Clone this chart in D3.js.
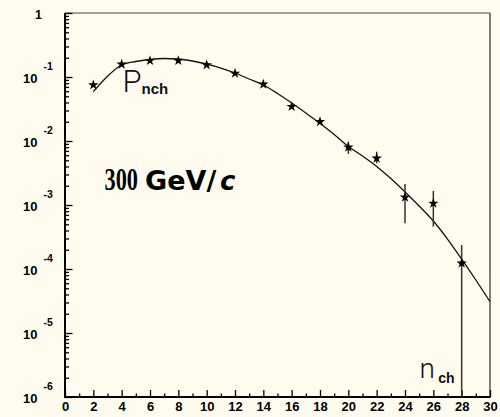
<!DOCTYPE html>
<html>
<head>
<meta charset="utf-8">
<script src="https://cdn.jsdelivr.net/npm/d3@7"></script>
<style>
  html, body { margin: 0; padding: 0; background: #fffcef; }
  svg { display: block; }
</style>
</head>
<body>
<svg id="chart" width="500" height="417"></svg>
<script>
// ---- data ----
const nch      = [2, 4, 6, 8, 10, 12, 14, 16, 18, 20, 22, 24, 26, 28];
const pnch     = [0.075, 0.158, 0.180, 0.180, 0.154, 0.114, 0.0769, 0.0344, 0.0200, 0.00797, 0.00537, 0.00132, 0.00106, 0.000123];
const errHigh  = [0.075, 0.158, 0.180, 0.180, 0.154, 0.114, 0.0769, 0.0344, 0.0200, 0.00975, 0.00681, 0.00213, 0.00166, 0.000237];
const errLow   = [0.075, 0.158, 0.180, 0.180, 0.154, 0.114, 0.0769, 0.0344, 0.0200, 0.0063, 0.00449, 0.000518, 0.000458, 0.000001];

const fitN = [2, 3, 4, 5, 6, 7, 8, 9, 10, 11, 12, 13, 14, 15, 16, 17, 18, 19, 20, 21, 22, 23, 24, 25, 26, 27, 28, 29, 30];
const fitP = [0.0589, 0.103, 0.154, 0.1747, 0.1877, 0.1946, 0.1911, 0.1778, 0.1596, 0.1382, 0.1155, 0.0931, 0.0750, 0.0553,
              0.0392, 0.0274, 0.01877, 0.01264, 0.00821, 0.00583, 0.00400, 0.00259, 0.00160, 0.000965, 0.000562,
              0.000294, 0.000143, 0.0000673, 0.0000308];

const xMajorTicks = [0, 2, 4, 6, 8, 10, 12, 14, 16, 18, 20, 22, 24, 26, 28, 30];
const xMinorTicks = [1, 3, 5, 7, 9, 11, 13, 15, 17, 19, 21, 23, 25, 27, 29];
const yDecades    = [1, 1e-1, 1e-2, 1e-3, 1e-4, 1e-5, 1e-6];
const yExponents  = ["", "-1", "-2", "-3", "-4", "-5", "-6"];

// ---- layout ----
const svg = d3.select("#chart");
const L = 65, R = 490, T = 13, B = 397;
const x = d3.scaleLinear().domain([0, 30]).range([L, R]);
const y = d3.scaleLog().domain([1e-6, 1]).range([B, T]);

svg.append("rect").attr("width", 500).attr("height", 417).attr("fill", "#fffcef");

// frame top / right (grey)
svg.append("line").attr("x1", L).attr("x2", R).attr("y1", T).attr("y2", T)
  .attr("stroke", "#444").attr("stroke-width", 1.2);
svg.append("line").attr("x1", R).attr("x2", R).attr("y1", T).attr("y2", B)
  .attr("stroke", "#555").attr("stroke-width", 1.5);

// minor y ticks
const yMinor = [];
for (let d = -6; d < 0; d++) for (let k = 2; k <= 9; k++) yMinor.push(k * Math.pow(10, d));

const yMinorAxis = svg.append("g").attr("transform", `translate(${L},0)`)
  .call(d3.axisLeft(y).tickValues(yMinor).tickSize(-4).tickFormat(""));
yMinorAxis.select(".domain").remove();

const yAxis = svg.append("g").attr("transform", `translate(${L},0)`)
  .call(d3.axisLeft(y).tickValues(yDecades).tickSize(-7.5).tickFormat(""));
yAxis.select(".domain").remove();

[yMinorAxis, yAxis].forEach(g => g.selectAll(".tick line").attr("stroke", "#000").attr("stroke-width", 1.3));

// y labels
const ylab = svg.append("g").attr("font-family", "'Liberation Sans', Arial, sans-serif").attr("font-weight", "bold").attr("fill", "#000");
yDecades.forEach((v, i) => {
  const ty = y(v);
  if (i === 0) {
    ylab.append("text").attr("x", L - 23).attr("y", ty + 5.5).attr("text-anchor", "end")
      .attr("font-size", 12.5).text("1");
  } else {
    ylab.append("text").attr("x", L - 27.5).attr("y", ty + 5.7).attr("text-anchor", "end")
      .attr("font-size", 13).text("10");
    ylab.append("text").attr("x", L - 21.5).attr("y", ty - 7.5).attr("text-anchor", "start")
      .attr("font-size", 10.5).text(yExponents[i]);
  }
});

// x axis
const xMinorAxis = svg.append("g").attr("transform", `translate(0,${B})`)
  .call(d3.axisBottom(x).tickValues(xMinorTicks).tickSize(-3.5).tickFormat(""));
xMinorAxis.select(".domain").remove();
const xAxis = svg.append("g").attr("transform", `translate(0,${B})`)
  .call(d3.axisBottom(x).tickValues(xMajorTicks).tickSize(-7).tickPadding(5).tickFormat(d3.format("d")));
xAxis.select(".domain").remove();
[xMinorAxis, xAxis].forEach(g => g.selectAll(".tick line").attr("stroke", "#000").attr("stroke-width", 1.3));
xAxis.selectAll(".tick text")
  .attr("font-family", "'Liberation Sans', Arial, sans-serif")
  .attr("font-weight", "bold").attr("font-size", 13).attr("fill", "#000");

// main axis lines (black, thicker)
svg.append("line").attr("x1", L).attr("x2", L).attr("y1", T).attr("y2", B + 1)
  .attr("stroke", "#000").attr("stroke-width", 2);
svg.append("line").attr("x1", L - 1).attr("x2", R + 0.5).attr("y1", B).attr("y2", B)
  .attr("stroke", "#000").attr("stroke-width", 2);

// fit curve
const fitData = fitN.map((n, i) => [n, fitP[i]]);
svg.append("path")
  .datum(fitData)
  .attr("fill", "none").attr("stroke", "#111").attr("stroke-width", 1.3)
  .attr("d", d3.line().x(d => x(d[0])).y(d => y(d[1])).curve(d3.curveMonotoneX));

// error bars
const pts = nch.map((n, i) => ({ n, p: pnch[i], hi: errHigh[i], lo: errLow[i] }));
svg.append("g").selectAll("line")
  .data(pts.filter(d => d.hi !== d.lo))
  .join("line")
  .attr("x1", d => x(d.n)).attr("x2", d => x(d.n))
  .attr("y1", d => y(d.hi)).attr("y2", d => y(d.lo))
  .attr("stroke", "#333").attr("stroke-width", 1.5);

// stars
svg.append("g").selectAll("path")
  .data(pts)
  .join("path")
  .attr("transform", d => `translate(${x(d.n)},${y(d.p)})`)
  .attr("d", d3.symbol().type(d3.symbolStar).size(34))
  .attr("fill", "#000");

// annotations
svg.append("text").attr("x", 122.5).attr("y", 91.7)
  .attr("font-family", "Roboto, 'Liberation Sans', sans-serif").attr("font-weight", 300)
  .attr("font-size", 31).attr("fill", "#111").text("P");
svg.append("text").attr("x", 141.5).attr("y", 94)
  .attr("font-family", "'Liberation Sans', Arial, sans-serif").attr("font-weight", "bold")
  .attr("font-size", 15).attr("fill", "#111").text("nch");

svg.append("text").attr("x", 419.5).attr("y", 378.3)
  .attr("font-family", "Roboto, 'Liberation Sans', sans-serif").attr("font-weight", 300)
  .attr("font-size", 28).attr("fill", "#111").text("n");
svg.append("text").attr("x", 438.3).attr("y", 383.3)
  .attr("font-family", "'Liberation Sans', Arial, sans-serif").attr("font-weight", "bold")
  .attr("font-size", 14).attr("fill", "#111").text("ch");

// energy label (horizontally condensed serif digits, bold sans unit)
svg.append("text").attr("transform", "translate(104.5,189.5) scale(0.72,1)")
  .attr("font-family", "'Liberation Serif', 'Times New Roman', serif").attr("font-weight", "bold")
  .attr("font-size", 31).attr("fill", "#000").text("300");
svg.append("text").attr("transform", "translate(145,189.5) scale(1.04,1)")
  .attr("font-family", "'DejaVu Sans', sans-serif").attr("font-weight", "bold")
  .attr("font-size", 26).attr("fill", "#000").text("GeV/");
svg.append("text").attr("transform", "translate(220,189.5)")
  .attr("font-family", "'DejaVu Sans', sans-serif").attr("font-weight", "bold").attr("font-style", "italic")
  .attr("font-size", 26).attr("fill", "#000").text("c");
</script>
</body>
</html>
